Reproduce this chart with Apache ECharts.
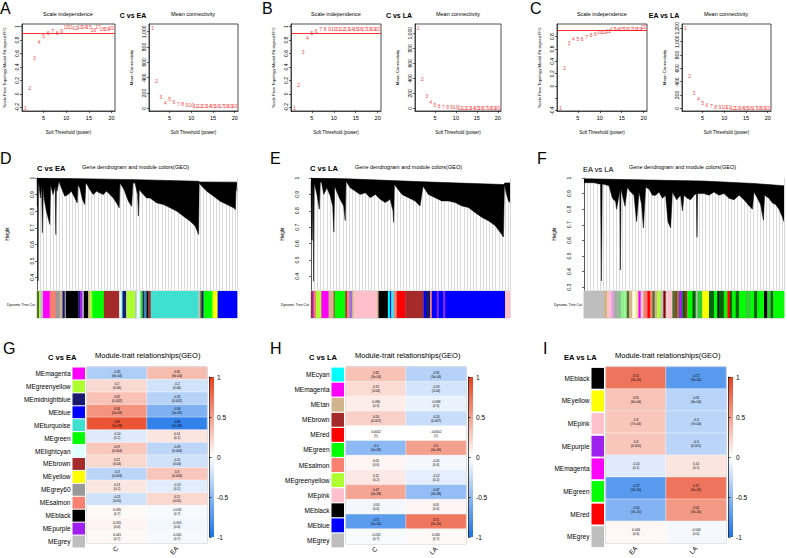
<!DOCTYPE html>
<html>
<head>
<meta charset="utf-8">
<title>WGCNA panels</title>
<script src="https://cdn.jsdelivr.net/npm/echarts@6.0.0/dist/echarts.min.js"></script>
<style>
  html, body { margin: 0; padding: 0; background: #fff; }
  #main { width: 787px; height: 558px; }
</style>
</head>
<body>
<div id="main"></div>
<script>
// ---- top row: soft threshold picking ----
const powers = [1, 2, 3, 4, 5, 6, 7, 8, 9, 10, 11, 12, 13, 14, 15, 16, 17, 18, 19, 20];
const fitCvsEA = [-0.21, 0.08, 0.53, 0.77, 0.86, 0.91, 0.93, 0.90, 0.94, 0.99, 0.99, 0.98, 1.00, 1.00, 1.00, 0.95, 1.00, 0.96, 0.96, 0.98];
const kCvsEA = [1052, 357, 148, 65, 117, 83, 61, 52, 48, 39, 35, 34, 33, 32, 32, 31, 31, 30, 30, 30];
const fitCvsLA = [-0.21, 0.13, 0.62, 0.83, 0.90, 0.94, 0.96, 0.96, 0.96, 0.97, 0.97, 0.97, 0.97, 0.97, 0.97, 0.96, 0.96, 0.96, 0.96, 0.96];
const kCvsLA = [1067, 387, 169, 84, 49, 31, 22, 16, 13, 11, 10, 9, 8, 7, 7, 6, 6, 5, 5, 5];
const fitEAvsLA = [-0.36, 0.29, 0.69, 0.77, 0.76, 0.77, 0.79, 0.83, 0.85, 0.87, 0.88, 0.89, 0.92, 0.92, 0.92, 0.92, 0.92, 0.92, 0.93, 0.95];
const kEAvsLA = [1200, 485, 235, 135, 75, 50, 35, 25, 20, 15, 13, 12, 10, 9, 8, 7, 7, 6, 6, 5];
const fitTicks = [-0.2, 0, 0.2, 0.4, 0.6, 0.8, 1.0];
const fitTicksC = [-0.4, -0.2, 0, 0.2, 0.4, 0.6, 0.8];
const fitLabelsC = [-0.4, 0, 0.2, 0.4, 0.6, 0.8];
const kTicks = [0, 200, 400, 600, 800, 1000];
const kTicksC = [0, 200, 400, 600, 800, 1000, 1200];
const powerTicks = [5, 10, 15, 20];

// ---- middle row: dendrogram lower edge [position %, height] ----
const treeCvsEA = [[0,0.99],[0.2,0.83],[0.4,0.99],[0.5,0.38],[0.7,0.98],[1,0.96],[1.7,0.88],[2.3,0.95],[2.7,0.67],[3.1,0.95],[3.5,0.88],[4.7,0.80],[6.4,0.72],[6.8,0.96],[7.2,0.94],[8,0.90],[9.1,0.95],[9.4,0.66],[9.7,0.95],[10,0.92],[11,0.98],[12.2,0.94],[13.9,0.89],[15.5,0.90],[17.2,0.92],[18.9,0.88],[20.1,0.85],[20.5,0.96],[21.4,0.94],[22.7,0.87],[23.9,0.84],[24.4,0.97],[25.1,0.96],[26.4,0.93],[28.1,0.90],[29.8,0.92],[31.4,0.91],[33.1,0.90],[34.8,0.92],[36.5,0.90],[38.1,0.88],[39.8,0.85],[41.1,0.82],[41.5,0.97],[43.5,0.93],[45.7,0.86],[47.3,0.83],[48,0.97],[49,0.97],[50.3,0.90],[50.7,0.77],[51.1,0.93],[53.2,0.90],[54.8,0.88],[56.5,0.88],[59.9,0.85],[63.2,0.84],[66.6,0.82],[69.9,0.80],[73.2,0.77],[76.6,0.74],[79.1,0.71],[80.8,0.66],[81.1,0.97],[82.4,0.95],[84.9,0.92],[88.3,0.89],[91.6,0.86],[95,0.84],[98.3,0.82],[99.2,0.81],[99.6,0.97],[100,0.92]];
const treeCvsLA = [[0,0.98],[0.3,0.63],[0.6,0.62],[1,0.97],[1.3,0.37],[1.6,0.97],[3,0.90],[4.2,0.81],[4.6,0.97],[5.2,0.98],[6.4,0.90],[8,0.94],[9.7,0.89],[10.9,0.83],[11.5,0.67],[11.9,0.95],[14.2,0.88],[16.4,0.83],[17.2,0.74],[17.6,0.98],[19.7,0.94],[22.2,0.92],[24.7,0.90],[27.3,0.91],[29.8,0.88],[32.3,0.90],[34.8,0.87],[37.3,0.85],[39.8,0.87],[41.2,0.80],[41.5,0.73],[41.9,0.96],[45.7,0.90],[49,0.88],[52.3,0.86],[54.8,0.83],[56.3,0.95],[59,0.90],[62.4,0.88],[65.7,0.86],[69.1,0.86],[72.4,0.85],[75.8,0.83],[79.1,0.82],[82.4,0.79],[85.8,0.76],[89.1,0.74],[92.5,0.71],[95,0.67],[96.7,0.64],[97.2,0.96],[98.3,0.90],[99.2,0.86],[100,0.85]];
const treeEAvsLA = [[0,0.97],[2.5,0.97],[5,0.97],[8.3,0.96],[8.7,0.34],[9.1,0.96],[10,0.96],[12.5,0.95],[14.2,0.87],[15.8,0.85],[16.3,0.80],[17.5,0.89],[17.9,0.93],[18.2,0.41],[18.5,0.93],[20.5,0.82],[21.7,0.94],[23.3,0.91],[25,0.89],[26.3,0.72],[27.5,0.91],[28.8,0.83],[29.7,0.68],[30.8,0.94],[32.5,0.93],[34.2,0.89],[35.8,0.89],[37.5,0.91],[39.2,0.87],[40.8,0.89],[42,0.72],[43.3,0.68],[44.2,0.91],[46.3,0.86],[48.3,0.89],[49.2,0.79],[50,0.89],[51.7,0.87],[53.3,0.86],[55,0.89],[56.2,0.90],[56.5,0.62],[56.8,0.90],[60,0.90],[62.5,0.89],[65,0.91],[67.5,0.89],[70,0.90],[72.5,0.87],[75,0.86],[77.5,0.89],[80,0.86],[82,0.83],[84.2,0.80],[85,0.91],[86.7,0.87],[88.3,0.83],[89.7,0.73],[90.3,0.89],[92.5,0.87],[94.2,0.84],[95.8,0.83],[97.5,0.80],[99.2,0.75],[100,0.72]];
// top merge line of each tree [position %, height]
const topCvsEA = [[0,1.0],[50,0.99],[81,0.98],[81.2,0.976],[100,0.975]];
const topCvsLA = [[0,1.0],[18,0.995],[60,0.975],[97,0.96],[97.4,0.97],[100,0.97]];
const topEAvsLA = [[0,0.995],[60,0.98],[85,0.965],[100,0.95]];
const treeTicks = [0.4, 0.5, 0.6, 0.7, 0.8, 0.9, 1.0];
const treeTicksF = [0.3, 0.4, 0.5, 0.6, 0.7, 0.8, 0.9, 1.0];

// Dynamic Tree Cut colour bars: module colour + block size
const barModsCvsEA = ['darkolivegreen','greenyellow','grey','magenta','salmon','grey60','tan','midnightblue','grey','black','midnightblue','purple','grey','black','tan','greenyellow','green','brown','lightcyan','turquoise','midnightblue','grey','greenyellow','grey','lightcyan','grey','green','midnightblue','steelblue','black','brown','turquoise','grey','darkolivegreen','midnightblue','green','yellow','blue'];
const barSizesCvsEA = [6,4,8,20,18,12,8,7,3,37,5,8,4,13,5,7,35,46,7,3,10,2,25,5,10,3,5,4,8,5,7,143,5,5,5,27,15,58];
const barModsCvsLA = ['brown','purple','salmon','greenyellow','magenta','tan','brown','green','brown','salmon','mediumpurple','tan','pink','tan','black','cyan','blue','cyan','salmon','red','brown','blue','midnightblue','salmon','blue','purple','blue','purple','blue','pink'];
const barSizesCvsLA = [5,3,7,16,22,15,3,32,5,7,8,5,70,5,28,6,4,7,10,25,55,7,13,5,15,5,15,5,180,15];
const barModsEAvsLA = ['grey','tan','pink','plum','darkgrey','darkseagreen','lightgreen','palegreen','darkolivegreen','tan','lightyellow','khaki','magenta','lightgrey','salmon','red','salmon','darkolivegreen','tan','greenyellow','grey','darkred','lightgrey','pink','darkolivegreen','brown','olivedrab','purple','darkgreen','brown','green','darkgreen','grey','limegreen','yellow','darkgreen','green','black','darkgreen','green','red','darkgreen','green','darkgreen','green','limegreen','green','darkgreen','green','black','limegreen','darkgreen','green'];
const barSizesEAvsLA = [60,10,12,8,10,10,10,8,7,10,10,8,7,8,12,8,7,7,8,10,8,7,5,15,10,5,5,10,8,7,15,10,5,15,20,15,10,5,15,10,8,7,10,10,20,15,10,10,20,10,10,8,32];

// ---- bottom row: module-trait correlations ----
const modsCvsEA = ['MEmagenta','MEgreenyellow','MEmidnightblue','MEblue','MEturquoise','MEgreen','MElightcyan','MEbrown','MEyellow','MEgrey60','MEsalmon','MEblack','MEpurple','MEgrey'];
const traitsCvsEA = ['C', 'EA'];
const corCvsEA_C = [-0.35, 0.2, 0.32, 0.56, 0.89, -0.14, 0.29, 0.21, -0.3, 0.13, -0.21, 0.035, 0.055, 0.041];
const corCvsEA_EA = [0.35, -0.2, -0.32, -0.56, -0.89, 0.14, -0.29, -0.21, 0.3, -0.13, 0.21, -0.035, -0.055, -0.041];
const pCvsEA = ['6e-04','0.06','0.002','5e-09','1e-33','0.2','0.004','0.04','0.003','0.2','0.05','0.7','0.6','0.7'];

const modsCvsLA = ['MEcyan','MEmagenta','MEtan','MEbrown','MEred','MEgreen','MEsalmon','MEgreenyellow','MEpink','MEblack','MEblue','MEgrey'];
const traitsCvsLA = ['C', 'LA'];
const corCvsLA_C = [0.32, 0.19, 0.096, 0.24, 0.0002, -0.5, 0.05, 0.12, 0.47, -0.05, -0.71, -0.032];
const corCvsLA_LA = [-0.32, -0.19, -0.096, -0.24, -0.0002, 0.5, -0.05, -0.12, -0.47, 0.05, 0.71, 0.032];
const pCvsLA = ['3e-04','0.04','0.3','0.007','1','5e-09','0.6','0.2','3e-08','0.6','5e-20','0.7'];

const modsEAvsLA = ['MEblack','MEyellow','MEpink','MEpurple','MEmagenta','MEgreen','MEred','MEgrey'];
const traitsEAvsLA = ['EA', 'LA'];
const corEAvsLA_EA = [0.72, 0.31, 0.3, 0.3, -0.14, -0.72, -0.54, 0.044];
const corEAvsLA_LA = [-0.72, -0.31, -0.3, -0.3, 0.14, 0.72, 0.54, -0.044];
const pEAvsLA = ['3e-20','6e-04','7e-04','0.001','0.1','3e-20','3e-10','0.6'];

const corTicks = [-1, -0.5, 0, 0.5, 1];

// R colour names that differ from css
const RCOL = { green: '#00FF00', purple: '#A020F0', grey: '#BEBEBE', grey60: '#999999', darkgrey: '#A9A9A9', lightgrey: '#D3D3D3' };
const rcol = n => RCOL[n] || n;

const FONT = '"Liberation Sans", Arial, sans-serif';
const BLACK = '#000';
const RED = '#e8401c';
const BLUE = '#1a73e8';

const option = {
    animation: false,
    textStyle: { fontFamily: FONT },
    grid: [], xAxis: [], yAxis: [], series: [], visualMap: [], graphic: []
};

function text(x, y, str, size, align, weight) {
    option.graphic.push({
        type: 'text', x: x, y: y, silent: true,
        style: {
            text: str, fill: BLACK,
            font: (weight || 'normal') + ' ' + size + 'px ' + FONT,
            textAlign: align || 'left', align: align || 'left',
            textVerticalAlign: 'middle', verticalAlign: 'middle'
        }
    });
}

const thin = { color: BLACK, width: 0.6 };

// scale independence / mean connectivity plot; one grid + one x + one y per call
function softPlot(left, width, yMin, yMax, yTicks, yLabels, yName, values, cut) {
    const i = option.grid.length;
    option.grid.push({ left: left, top: 24, width: width, height: 87, show: true, borderColor: BLACK, borderWidth: 0.7 });
    option.xAxis.push({
        gridIndex: i, type: 'value', min: 0.24, max: 20.76,
        name: 'Soft Threshold (power)', nameLocation: 'middle', nameGap: 19,
        nameTextStyle: { fontSize: 4.5, color: BLACK },
        axisLine: { show: true, onZero: false, lineStyle: thin },
        axisTick: { show: true, length: 2, customValues: powerTicks, lineStyle: thin },
        axisLabel: { customValues: powerTicks, fontSize: 5.5, margin: 4, color: BLACK },
        splitLine: { show: false }
    });
    option.yAxis.push({
        gridIndex: i, type: 'value', min: yMin, max: yMax,
        name: yName, nameLocation: 'middle', nameGap: 16,
        nameTextStyle: { fontSize: 4.3, color: BLACK },
        axisLine: { show: true, onZero: false, lineStyle: thin },
        axisTick: { show: true, length: 2, customValues: yTicks, lineStyle: thin },
        axisLabel: { customValues: yLabels, rotate: 90, fontSize: 5, margin: 3, color: BLACK },
        splitLine: { show: false }
    });
    const s = {
        type: 'scatter', xAxisIndex: i, yAxisIndex: i,
        data: powers.map((p, j) => [p, values[j]]),
        symbolSize: 1, itemStyle: { color: 'rgba(0,0,0,0)' },
        label: { show: true, position: 'inside', formatter: q => q.value[0], color: '#ff0000', fontSize: 5 }
    };
    if (cut != null) {
        s.markLine = { silent: true, symbol: 'none', label: { show: false },
            lineStyle: { color: '#ff0000', width: 0.8, type: 'solid' }, data: [{ yAxis: cut }] };
    }
    option.series.push(s);
}

// gene dendrogram + colour bar
function dendroPlot(left, width, axisGap, yMin, ticks, nameGap, tree, top, mods, sizes) {
    let i = option.grid.length;
    option.grid.push({ left: left, top: 178, width: width, height: 112 });
    option.xAxis.push({
        gridIndex: i, type: 'value', min: 0, max: 100, interval: 1.6,
        axisLine: { show: false }, axisTick: { show: false }, axisLabel: { show: false },
        splitLine: { show: true, lineStyle: { color: '#b4b4b4', width: 0.5 } }
    });
    option.yAxis.push({
        gridIndex: i, type: 'value', min: yMin, max: 1, offset: axisGap,
        name: 'Height', nameLocation: 'middle', nameGap: nameGap,
        nameTextStyle: { fontSize: 4.5, color: BLACK },
        axisLine: { show: true, lineStyle: thin },
        axisTick: { show: true, length: 2, customValues: ticks, lineStyle: thin },
        axisLabel: { customValues: ticks, rotate: 90, fontSize: 5, margin: 3, color: BLACK },
        splitLine: { show: false }
    });
    option.series.push({
        type: 'line', xAxisIndex: i, yAxisIndex: i, data: tree, symbol: 'none',
        lineStyle: { color: BLACK, width: 0.5 },
        areaStyle: { color: BLACK, opacity: 1, origin: 'end' }
    });
    // blank space above the highest merges
    option.series.push({
        type: 'line', xAxisIndex: i, yAxisIndex: i, data: top, symbol: 'none',
        lineStyle: { color: BLACK, width: 0.6 },
        areaStyle: { color: '#ffffff', opacity: 1, origin: 'end' }
    });

    i = option.grid.length;
    const total = sizes.reduce((a, b) => a + b, 0);
    option.grid.push({ left: left, top: 291, width: width, height: 27, show: true, borderColor: '#666', borderWidth: 0.4 });
    option.xAxis.push({ gridIndex: i, type: 'value', min: 0, max: total, show: false });
    option.yAxis.push({ gridIndex: i, type: 'value', min: 0, max: 1, show: false });
    const blocks = [];
    let start = 0;
    sizes.forEach(w => { blocks.push([start, start + w]); start += w; });
    option.series.push({
        type: 'custom', xAxisIndex: i, yAxisIndex: i, data: blocks, encode: { x: [0, 1] },
        renderItem: (params, api) => {
            const p0 = api.coord([api.value(0), 1]);
            const p1 = api.coord([api.value(1), 0]);
            return { type: 'rect',
                shape: { x: p0[0], y: p0[1], width: p1[0] - p0[0] + 0.3, height: p1[1] - p0[1] },
                style: { fill: rcol(mods[params.dataIndex]) } };
        }
    });
}

// module-trait heatmap with colour side bar and legend bar
function heatPanel(left, mods, traits, colA, colB, pv) {
    let i = option.grid.length;
    option.grid.push({ left: left - 14.5, top: 367, width: 12.5, height: 181 });
    option.xAxis.push({ gridIndex: i, type: 'value', min: 0, max: 1, show: false });
    option.yAxis.push({
        gridIndex: i, type: 'category', data: mods, inverse: true,
        axisLine: { show: false }, axisTick: { show: false },
        axisLabel: { fontSize: 6.5, color: BLACK, margin: 2 }
    });
    option.series.push({
        type: 'bar', xAxisIndex: i, yAxisIndex: i, barCategoryGap: '8%',
        data: mods.map(m => ({ value: 1, itemStyle: { color: rcol(m.slice(2)) } }))
    });

    i = option.grid.length;
    option.grid.push({ left: left, top: 367, width: 120, height: 181, show: true, borderColor: '#777', borderWidth: 0.8 });
    option.xAxis.push({
        gridIndex: i, type: 'category', data: traits,
        axisLine: { show: false }, axisTick: { show: false },
        axisLabel: { rotate: 45, fontSize: 6.5, color: BLACK, margin: 4 }
    });
    option.yAxis.push({ gridIndex: i, type: 'category', data: mods, inverse: true, show: false });
    const cells = [];
    mods.forEach((m, r) => {
        cells.push({ value: [0, r, colA[r]], p: pv[r] });
        cells.push({ value: [1, r, colB[r]], p: pv[r] });
    });
    const si = option.series.length;
    option.series.push({
        type: 'heatmap', xAxisIndex: i, yAxisIndex: i, data: cells,
        itemStyle: { borderColor: '#fff', borderWidth: 0.4 },
        label: { show: true, fontSize: 3.2, lineHeight: 4, color: BLACK,
            formatter: q => q.data.value[2] + '\n(' + q.data.p + ')' }
    });
    option.visualMap.push({
        type: 'continuous', show: false, seriesIndex: si, dimension: 2, min: -1, max: 1,
        inRange: { color: [BLUE, '#ffffff', RED] }
    });

    i = option.grid.length;
    option.grid.push({
        left: left + 122.5, top: 377, width: 4.5, height: 160, show: true, borderWidth: 0,
        backgroundColor: new echarts.graphic.LinearGradient(0, 0, 0, 1, [
            { offset: 0, color: RED }, { offset: 0.5, color: '#ffffff' }, { offset: 1, color: BLUE }])
    });
    option.xAxis.push({ gridIndex: i, type: 'value', min: 0, max: 1, show: false });
    option.yAxis.push({
        gridIndex: i, type: 'value', min: -1, max: 1, position: 'right',
        axisLine: { show: true, lineStyle: { color: BLACK, width: 0.7 } },
        axisTick: { show: true, length: 2, customValues: corTicks, lineStyle: { color: BLACK, width: 0.7 } },
        axisLabel: { customValues: corTicks, fontSize: 6.5, color: BLACK, margin: 3 },
        splitLine: { show: false }
    });
}

// top row
const fitName = 'Scale Free Topology Model Fit,signed R^2';
softPlot(22, 93, -0.255, 1.04, fitTicks, fitTicks, fitName, fitCvsEA, 0.9);
softPlot(149, 89, -35, 1100, kTicks, kTicks, 'Mean Connectivity', kCvsEA, null);
softPlot(291, 90, -0.255, 1.04, fitTicks, fitTicks, fitName, fitCvsLA, 0.9);
softPlot(415, 86, -36, 1124, kTicks, kTicks, 'Mean Connectivity', kCvsLA, null);
softPlot(557, 90, -0.405, 1.005, fitTicksC, fitLabelsC, fitName, fitEAvsLA, 0.9);
softPlot(682, 89, -40, 1265, kTicksC, kTicksC, 'Mean Connectivity', kEAvsLA, null);

// middle row
dendroPlot(37, 200, 0, 0.325, treeTicks, 27, treeCvsEA, topCvsEA, barModsCvsEA, barSizesCvsEA);
dendroPlot(311, 199, 9, 0.317, treeTicks, 17, treeCvsLA, topCvsLA, barModsCvsLA, barSizesCvsLA);
dendroPlot(584, 200, 10, 0.282, treeTicksF, 17, treeEAvsLA, topEAvsLA, barModsEAvsLA, barSizesEAvsLA);

// bottom row
heatPanel(87, modsCvsEA, traitsCvsEA, corCvsEA_C, corCvsEA_EA, pCvsEA);
heatPanel(346, modsCvsLA, traitsCvsLA, corCvsLA_C, corCvsLA_LA, pCvsLA);
heatPanel(606, modsEAvsLA, traitsEAvsLA, corEAvsLA_EA, corEAvsLA_LA, pEAvsLA);

// panel letters and headings
text(0, 8, 'A', 16); text(262, 8, 'B', 16); text(530, 8, 'C', 16);
text(0, 158, 'D', 16); text(270, 158, 'E', 16); text(537, 158, 'F', 16);
text(3, 348, 'G', 16); text(270, 348, 'H', 16); text(543, 348, 'I', 16);

text(68, 14, 'Scale independence', 5.5, 'center');
text(133, 15, 'C vs EA', 7, 'center', 'bold');
text(193, 14, 'Mean connectivity', 5.5, 'center');
text(336, 14, 'Scale independence', 5.5, 'center');
text(399, 15, 'C vs LA', 7, 'center', 'bold');
text(458, 14, 'Mean connectivity', 5.5, 'center');
text(602, 14, 'Scale independence', 5.5, 'center');
text(664, 15, 'EA vs LA', 7, 'center', 'bold');
text(726, 14, 'Mean connectivity', 5.5, 'center');

text(37, 168, 'C vs EA', 7.5, 'left', 'bold');
text(82, 167, 'Gene dendrogram and module colors(GEO)', 5.5);
text(310, 168, 'C vs LA', 7.5, 'left', 'bold');
text(355, 167, 'Gene dendrogram and module colors(GEO)', 5.5);
text(583, 169, 'EA vs LA', 7.5);
text(629, 167, 'Gene dendrogram and module colors(GEO)', 5.5);
text(35, 304.5, 'Dynamic Tree Cut', 3.5, 'right');
text(309, 304.5, 'Dynamic Tree Cut', 3.5, 'right');
text(582, 304.5, 'Dynamic Tree Cut', 3.5, 'right');

text(48, 357, 'C vs EA', 7.5, 'left', 'bold');
text(95, 355, 'Module-trait relationships(GEO)', 7.5);
text(309, 357, 'C vs LA', 7.5, 'left', 'bold');
text(355, 355, 'Module-trait relationships(GEO)', 7.5);
text(564, 357, 'EA vs LA', 7.5, 'left', 'bold');
text(615, 355, 'Module-trait relationships(GEO)', 7.5);

const chart = echarts.init(document.getElementById('main'), null, { renderer: 'svg' });
chart.setOption(option);
</script>
</body>
</html>
